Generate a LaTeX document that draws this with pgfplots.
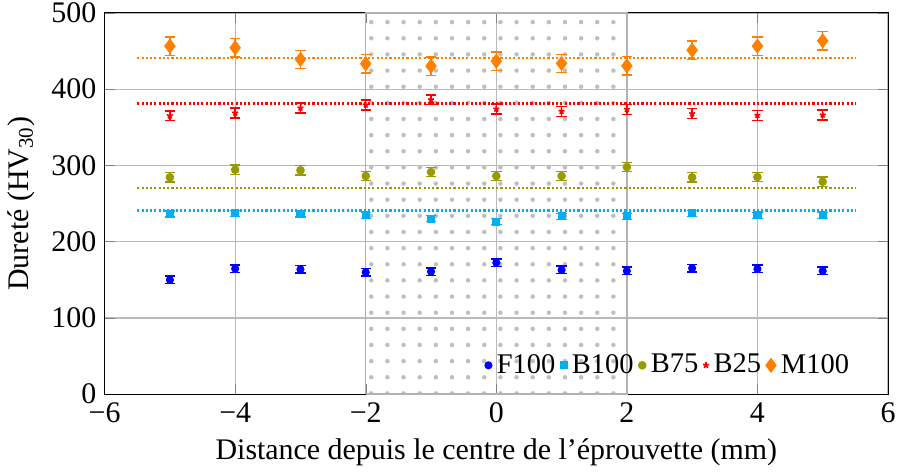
\documentclass[border=0pt]{standalone}
\usepackage{fontspec}
\setmainfont{Liberation Serif}
\usepackage{pgfplots}
\pgfplotsset{compat=1.18}
\usetikzlibrary{patterns.meta}
\definecolor{cF}{RGB}{0,0,255}
\definecolor{cB}{RGB}{0,176,240}
\definecolor{cO}{RGB}{153,153,0}
\definecolor{cR}{RGB}{255,0,0}
\definecolor{cM}{RGB}{255,128,0}
\begin{document}
\begin{tikzpicture}
\begin{axis}[
  scale only axis,
  width=330pt, height=160.6pt,
  xmin=-6, xmax=6, ymin=0, ymax=500,
  xtick={-6,-4,...,6}, ytick={0,100,...,500},
  xticklabels={−6,−4,−2,0,2,4,6},
  /pgf/number format/assume math mode=true,
  tick label style={font=\fontsize{12.6}{15}\selectfont},
  xticklabel style={inner xsep=1.5pt},
  yticklabel style={inner ysep=1.2pt},
  label style={font=\fontsize{12.6}{15}\selectfont},
  grid=major,
  major grid style={gray!55, line width=0.5pt},
  xlabel={Distance depuis le centre de l’éprouvette (mm)},
  ylabel={Dureté (HV\textsubscript{30})},
  legend style={draw=none, fill=none, at={(0.966,0.02)}, anchor=south east,
    font=\fontsize{12}{15}\selectfont, nodes={inner xsep=2pt}},
  legend columns=-1,
  legend cell align=left,
  legend style={/tikz/every even column/.append style={column sep=0pt}},
  legend image code/.code={\draw[mark repeat=2,mark phase=2,#1] plot coordinates {(0cm,0cm) (0.05cm,0cm) (0.1cm,0cm)};},
  error bars/error bar style={line width=0.6pt},
  error bars/error mark options={rotate=90, mark size=2.2pt, line width=0.6pt},
]
% shaded central zone
\addplot[forget plot, draw=gray!60, line width=0.6pt, pattern={Dots[distance=6.8pt, radius=0.95pt]}, pattern color=gray!50]
  coordinates {(-2,0) (-2,500) (2,500) (2,0) (-2,0)};
% reference lines
\addplot[forget plot, cM, line width=1.1pt, dash pattern=on 0.9pt off 0.9pt] coordinates {(-5.5,441) (5.5,441)};
\addplot[forget plot, cR, line width=1.1pt, dash pattern=on 0.9pt off 0.9pt] coordinates {(-5.5,381) (5.5,381)};
\addplot[forget plot, cO, line width=1.1pt, dash pattern=on 0.9pt off 0.9pt] coordinates {(-5.5,270.5) (5.5,270.5)};
\addplot[forget plot, cB, line width=1.1pt, dash pattern=on 0.9pt off 0.9pt] coordinates {(-5.5,240.6) (5.5,240.6)};
% F100
\addplot[only marks, cF, mark=*, mark size=1.5pt, error bars/.cd, y dir=both, y explicit]
  coordinates {(-5,149.8) +- (0,5) (-4,164.6) +- (0,5) (-3,163.8) +- (0,5) (-2,159.9) +- (0,5) (-1,160.7) +- (0,5)
    (0,172.5) +- (0,5) (1,162.9) +- (0,5) (2,161.6) +- (0,5) (3,165.1) +- (0,5) (4,164.2) +- (0,5) (5,161.6) +- (0,5)};
\addlegendentry{F100}
% B100
\addplot[only marks, cB, mark=square*, mark size=1.5pt, error bars/.cd, y dir=both, y explicit]
  coordinates {(-5,236.3) +- (0,4) (-4,237.2) +- (0,4) (-3,236.3) +- (0,4) (-2,234.6) +- (0,4) (-1,230.1) +- (0,4)
    (0,226.2) +- (0,4) (1,233.3) +- (0,4) (2,233.3) +- (0,4) (3,237.2) +- (0,4) (4,234.6) +- (0,4) (5,234.6) +- (0,4)};
\addlegendentry{B100}
% B75
\addplot[only marks, cO, mark=*, mark size=1.6pt, error bars/.cd, y dir=both, y explicit]
  coordinates {(-5,284.4) +- (0,6) (-4,294.4) +- (0,6) (-3,293.6) +- (0,6) (-2,286.1) +- (0,6) (-1,291.3) +- (0,6)
    (0,286.1) +- (0,6) (1,286.1) +- (0,6) (2,297.9) +- (0,6) (3,284.4) +- (0,6) (4,284.8) +- (0,6) (5,278.6) +- (0,6)};
\addlegendentry{B75}
% B25
\addplot[only marks, cR, mark=star, mark size=1.3pt, mark options={line width=0.7pt}, error bars/.cd, y dir=both, y explicit]
  coordinates {(-5,365.1) +- (0,6.5) (-4,368.7) +- (0,6.5) (-3,375.2) +- (0,6.5) (-2,379.2) +- (0,6.5) (-1,386.1) +- (0,6.5)
    (0,373.9) +- (0,6.5) (1,370.9) +- (0,6.5) (2,373.5) +- (0,6.5) (3,367.8) +- (0,6.5) (4,365.7) +- (0,6.5) (5,366.1) +- (0,6.5)};
\addlegendentry{B25}
% M100
\addplot[only marks, cM, mark=diamond*, mark size=2.9pt, error bars/.cd, y dir=both, y explicit]
  coordinates {(-5,456.5) +- (0,12) (-4,454.3) +- (0,12) (-3,439.1) +- (0,12) (-2,433.3) +- (0,12) (-1,430.3) +- (0,12)
    (0,436.8) +- (0,12) (1,433.8) +- (0,12) (2,430.6) +- (0,12) (3,451.2) +- (0,12) (4,456.5) +- (0,12) (5,463.4) +- (0,12)};
\addlegendentry{M100}
\end{axis}
\end{tikzpicture}
\end{document}
